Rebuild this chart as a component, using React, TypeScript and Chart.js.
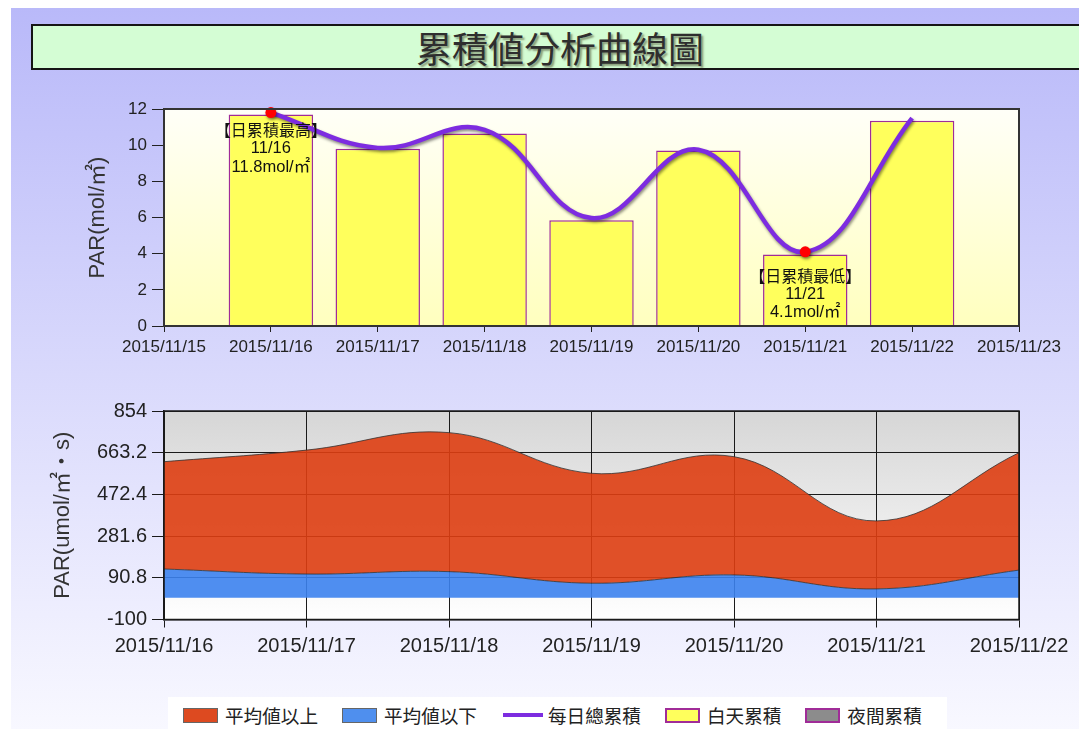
import React, { useEffect, useRef } from 'react';
import { Chart, registerables } from 'chart.js';

Chart.register(...registerables);

// ---------- data ----------
const titleText = '累積値分析曲線圖';
const topAxisDates = ['2015/11/15', '2015/11/16', '2015/11/17', '2015/11/18', '2015/11/19', '2015/11/20', '2015/11/21', '2015/11/22', '2015/11/23'];
const dayDates = ['2015/11/16', '2015/11/17', '2015/11/18', '2015/11/19', '2015/11/20', '2015/11/21', '2015/11/22'];
const dayValues = [11.7, 9.8, 10.65, 5.85, 9.7, 3.95, 11.35];
const totalValues = [11.8, 9.85, 10.85, 5.97, 9.75, 4.1, 11.5];
const topYTicks = [0, 2, 4, 6, 8, 10, 12];
const topYTitle = 'PAR(mol/㎡)';

const bottomDates = ['2015/11/16', '2015/11/17', '2015/11/18', '2015/11/19', '2015/11/20', '2015/11/21', '2015/11/22'];
const aboveAvgValues = [622, 675, 755, 569, 645, 351, 663];
const belowAvgValues = [131, 108, 119, 66, 104, 40, 126];
const bottomYTicks = [-100, 90.8, 281.6, 472.4, 663.2, 854];
const bottomYTitle = 'PAR(umol/㎡・s)';

const legendLabels = ['平均値以上', '平均値以下', '每日總累積', '白天累積', '夜間累積'];
const maxTitle = '【日累積最高】';
const minTitle = '【日累積最低】';
const unit = 'mol/㎡';

// ---------- styles ----------
const RED = 'rgba(222,62,18,0.9)';
const BLUE = 'rgba(60,130,238,0.9)';
const PURPLE = '#7d2ce0';
const YELLOW = '#ffff5c';
const BAR_BORDER = '#a02c98';
const LATIN = "'Liberation Sans', 'Noto Sans CJK TC', sans-serif";
const legendStyles = [
  { kind: 'box', fill: '#dd4a20', border: '#666' },
  { kind: 'box', fill: '#4f8fee', border: '#666' },
  { kind: 'line', fill: PURPLE, border: PURPLE },
  { kind: 'box', fill: YELLOW, border: BAR_BORDER },
  { kind: 'box', fill: '#8c8c8c', border: BAR_BORDER },
];

const plotFrame = {
  id: 'plotFrame',
  beforeDraw(chart: any, _a: any, opts: any) {
    const { ctx, chartArea } = chart;
    const { left, top, right, bottom } = chartArea;
    const g = ctx.createLinearGradient(0, top, 0, bottom);
    g.addColorStop(0, opts.from);
    g.addColorStop(1, opts.to);
    ctx.save();
    ctx.fillStyle = g;
    ctx.fillRect(left, top, right - left, bottom - top);
    ctx.restore();
  },
  afterDatasetsDraw(chart: any, _a: any, opts: any) {
    const { ctx, chartArea } = chart;
    const { left, top, right, bottom } = chartArea;
    ctx.save();
    ctx.strokeStyle = opts.border;
    ctx.lineWidth = opts.borderWidth;
    ctx.strokeRect(left, top, right - left, bottom - top);
    ctx.restore();
  },
};

const lineShadow = {
  id: 'lineShadow',
  beforeDatasetDraw(chart: any, args: any) {
    if (args.index === 0) {
      const c = chart.ctx;
      c.save();
      c.shadowColor = 'rgba(0,0,0,0.45)';
      c.shadowBlur = 3;
      c.shadowOffsetX = 1;
      c.shadowOffsetY = 2;
    }
  },
  afterDatasetDraw(chart: any, args: any) {
    if (args.index === 0) chart.ctx.restore();
  },
};

const extremeLabels = {
  id: 'extremeLabels',
  afterDatasetsDraw(chart: any, _a: any, opts: any) {
    const meta = chart.getDatasetMeta(0);
    const ctx = chart.ctx;
    ctx.save();
    ctx.textAlign = 'center';
    ctx.textBaseline = 'middle';
    ctx.fillStyle = '#111';
    for (const item of opts.items) {
      const pt = meta.data[item.index];
      if (!pt) continue;
      item.lines.forEach((t: string, i: number) => {
        ctx.font = i === 0 ? "16px 'Noto Sans CJK TC', sans-serif" : `16.5px ${LATIN}`;
        ctx.fillText(t, pt.x, pt.y + item.offset + i * 18.5);
      });
    }
    ctx.restore();
  },
};

function shortDate(d: string) {
  const p = d.split('/');
  return `${p[1]}/${p[2]}`;
}

export default function App() {
  const topRef = useRef<HTMLCanvasElement>(null);
  const botRef = useRef<HTMLCanvasElement>(null);

  useEffect(() => {
    document.body.style.margin = '0';
    let maxIdx = 0;
    let minIdx = 0;
    totalValues.forEach((v, i) => {
      if (v > totalValues[maxIdx]) maxIdx = i;
      if (v < totalValues[minIdx]) minIdx = i;
    });

    const top = new Chart(topRef.current!, {
      type: 'bar',
      data: {
        labels: topAxisDates,
        datasets: [
          {
            type: 'line',
            label: legendLabels[2],
            data: totalValues.map((v, i) => ({ x: dayDates[i], y: v })) as any,
            borderColor: PURPLE,
            borderWidth: 4.5,
            tension: 0.4,
            fill: false,
            clip: 10,
            pointRadius: (c: any) => (c.dataIndex === maxIdx || c.dataIndex === minIdx ? 5.5 : 0),
            pointBackgroundColor: '#ff0000',
            pointBorderColor: '#ff0000',
            pointBorderWidth: 0,
          } as any,
          {
            type: 'bar',
            label: legendLabels[3],
            data: dayValues.map((v, i) => ({ x: dayDates[i], y: v })) as any,
            backgroundColor: YELLOW,
            borderColor: BAR_BORDER,
            borderWidth: 1.5,
            categoryPercentage: 1,
            barPercentage: 0.79,
          } as any,
        ],
      },
      options: {
        responsive: false,
        animation: false,
        events: [],
        layout: { padding: { top: 29, right: 60, left: 0, bottom: 0 } },
        plugins: {
          legend: { display: false },
          tooltip: { enabled: false },
          plotFrame: { from: '#fffff8', to: '#ffffbe', border: '#333', borderWidth: 2 },
          extremeLabels: {
            items: [
              { index: maxIdx, offset: 17.5, lines: [maxTitle, shortDate(dayDates[maxIdx]), `${totalValues[maxIdx].toFixed(1)}${unit}`] },
              { index: minIdx, offset: 24, lines: [minTitle, shortDate(dayDates[minIdx]), `${totalValues[minIdx].toFixed(1)}${unit}`] },
            ],
          },
        } as any,
        scales: {
          x: {
            type: 'category',
            offset: false,
            afterFit: (s: any) => { s.height = 54; },
            grid: { display: true, offset: false, drawOnChartArea: false, drawTicks: true, tickLength: 6, color: '#222' },
            border: { color: '#222', width: 1.5 },
            ticks: { color: '#222', font: { family: LATIN, size: 17 }, padding: 5, maxRotation: 0, autoSkip: false },
          },
          y: {
            min: 0,
            max: 12,
            afterFit: (s: any) => { s.width = 164; },
            afterBuildTicks: (s: any) => { s.ticks = topYTicks.map((v) => ({ value: v })); },
            grid: { display: true, drawOnChartArea: false, drawTicks: true, tickLength: 12, color: '#222' },
            border: { color: '#222', width: 1.5 },
            ticks: { color: '#222', font: { family: LATIN, size: 17 }, padding: 5 },
            title: { display: true, text: topYTitle, color: '#333', font: { family: LATIN, size: 22 }, padding: { top: 84.4, bottom: 0 } },
          },
        } as any,
      },
      plugins: [plotFrame, lineShadow, extremeLabels],
    });

    const bot = new Chart(botRef.current!, {
      type: 'line',
      data: {
        labels: bottomDates,
        datasets: [
          {
            label: legendLabels[1],
            data: belowAvgValues,
            backgroundColor: BLUE,
            borderColor: 'rgba(50,50,50,0.8)',
            borderWidth: 1,
            tension: 0.4,
            fill: 'origin',
            pointRadius: 0,
          },
          {
            label: legendLabels[0],
            data: aboveAvgValues,
            backgroundColor: RED,
            borderColor: 'rgba(50,50,50,0.8)',
            borderWidth: 1,
            tension: 0.4,
            fill: '-1',
            pointRadius: 0,
          },
        ],
      },
      options: {
        responsive: false,
        animation: false,
        events: [],
        layout: { padding: { top: 26, right: 60, left: 0, bottom: 0 } },
        plugins: {
          legend: { display: false },
          tooltip: { enabled: false },
          plotFrame: { from: '#d6d6d6', to: '#ffffff', border: '#1a1a1a', borderWidth: 1.5 },
        } as any,
        scales: {
          x: {
            type: 'category',
            offset: false,
            afterFit: (s: any) => { s.height = 65.5; },
            grid: { display: true, drawOnChartArea: true, drawTicks: true, tickLength: 8, color: '#1a1a1a' },
            border: { color: '#1a1a1a', width: 1.5 },
            ticks: { color: '#222', font: { family: LATIN, size: 20 }, padding: 7, maxRotation: 0, autoSkip: false },
          },
          y: {
            min: -100,
            max: 854,
            afterFit: (s: any) => { s.width = 164; },
            afterBuildTicks: (s: any) => { s.ticks = bottomYTicks.map((v) => ({ value: v })); },
            grid: { display: true, drawOnChartArea: true, drawTicks: true, tickLength: 12, color: '#1a1a1a' },
            border: { color: '#1a1a1a', width: 1.5 },
            ticks: { color: '#222', font: { family: LATIN, size: 20 }, padding: 5, callback: (v: any) => String(v) },
            title: { display: true, text: bottomYTitle, color: '#333', font: { family: LATIN, size: 22 }, padding: { top: 49.3, bottom: 0 } },
          },
        } as any,
      },
      plugins: [plotFrame],
    });

    return () => {
      top.destroy();
      bot.destroy();
    };
  }, []);

  return (
    <div style={{ position: 'fixed', left: 0, top: 0, width: 1079, height: 729, overflow: 'hidden', background: '#fff' }}>
      <div style={{ position: 'absolute', left: 11, top: 8, width: 1068, height: 721, background: 'linear-gradient(to bottom, #b9b9f9, #f8f8ff)' }} />
      <div
        style={{
          position: 'absolute', left: 31, top: 24, width: 1058, height: 46, boxSizing: 'border-box',
          border: '2px solid #151515', background: '#d4fdd4', textAlign: 'center', lineHeight: '42px',
          fontFamily: "'Noto Sans CJK TC', sans-serif", fontSize: 36, color: '#2e2e2e',
          textShadow: '2px 2px 2px rgba(70,70,40,0.55)', whiteSpace: 'nowrap',
        }}
      >
        {titleText}
      </div>
      <canvas ref={topRef} width={1079} height={300} style={{ position: 'absolute', left: 0, top: 80, width: 1079, height: 300 }} />
      <canvas ref={botRef} width={1079} height={300} style={{ position: 'absolute', left: 0, top: 385, width: 1079, height: 300 }} />
      <div
        style={{
          position: 'absolute', left: 168, top: 697, width: 779, height: 40, background: '#fff',
          display: 'flex', alignItems: 'flex-start', paddingTop: 10, paddingLeft: 15, boxSizing: 'border-box',
          fontFamily: "'Noto Sans CJK TC', sans-serif", fontSize: 18.6, color: '#222',
        }}
      >
        {legendLabels.map((lab, i) => {
          const st = legendStyles[i];
          return (
            <div key={lab} style={{ display: 'flex', alignItems: 'center', height: 16, marginRight: i === 1 ? 26 : 24 }}>
              {st.kind === 'line' ? (
                <span style={{ display: 'inline-block', width: 40, height: 4, background: st.fill, marginRight: 5 }} />
              ) : (
                <span style={{ display: 'inline-block', width: 35, height: 15, boxSizing: 'border-box', background: st.fill, border: `${st.border === BAR_BORDER ? 2 : 1}px solid ${st.border}`, marginRight: 7 }} />
              )}
              <span style={{ lineHeight: '16px', whiteSpace: 'nowrap' }}>{lab}</span>
            </div>
          );
        })}
      </div>
    </div>
  );
}
